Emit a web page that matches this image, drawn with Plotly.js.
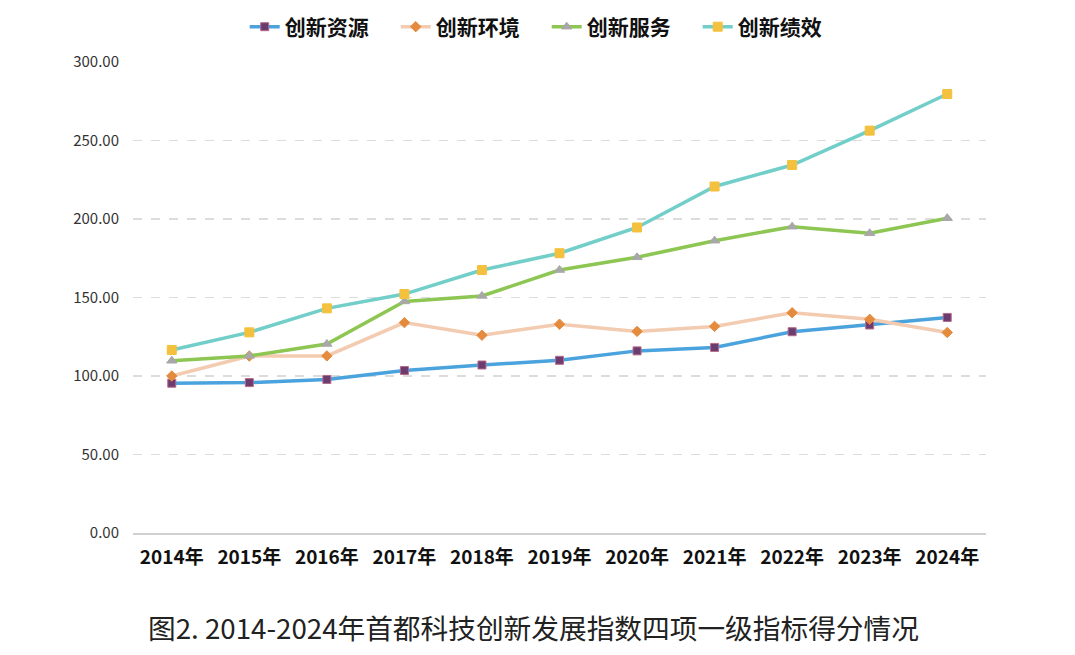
<!DOCTYPE html>
<html>
<head>
<meta charset="utf-8">
<script src="https://cdn.plot.ly/plotly-3.0.1.min.js"></script>
<style>
html,body{margin:0;padding:0;background:#fff;}
#chart{width:1075px;height:655px;}
</style>
</head>
<body>
<div id="chart"></div>
<script>
const years = ["2014年","2015年","2016年","2017年","2018年","2019年","2020年","2021年","2022年","2023年","2024年"];
const resources = [95.4, 95.8, 97.8, 103.5, 107.0, 110.0, 116.0, 118.2, 128.2, 132.5, 137.3];
const environment = [100.0, 112.7, 112.8, 134.0, 126.0, 133.0, 128.4, 131.6, 140.3, 136.1, 127.7];
const services = [109.7, 112.8, 120.4, 147.5, 151.0, 167.5, 175.6, 186.2, 195.1, 190.9, 200.5];
const performance = [116.6, 127.8, 143.1, 152.2, 167.5, 178.2, 194.6, 220.7, 234.4, 256.3, 279.6];
const yTicks = [0, 50, 100, 150, 200, 250, 300];
const caption = "图2. 2014-2024年首都科技创新发展指数四项一级指标得分情况";

const FONT = "'Noto Sans CJK SC', 'Noto Sans', sans-serif";

function series(name, y, lineColor, mColor, mLine, symbol, size) {
  return {
    type: "scatter", mode: "lines+markers", name: name, x: years, y: y,
    line: {color: lineColor, width: 3.5},
    marker: {symbol: symbol, size: size, color: mColor, line: {color: mLine, width: 1}}
  };
}

const data = [
  series("创新资源", resources, "#4BA3DE", "#6A3C70", "#B66A88", "square", 8),
  series("创新环境", environment, "#F3CBB0", "#E58B3E", "#E58B3E", "diamond", 8),
  series("创新服务", services, "#8DC652", "#A8A8A8", "#A8A8A8", "triangle-up", 9),
  series("创新绩效", performance, "#72CEC8", "#F4C13E", "#F4C13E", "square", 9)
];

const layout = {
  width: 1075, height: 655,
  paper_bgcolor: "#fff", plot_bgcolor: "#fff",
  margin: {l: 133, r: 89, t: 62, b: 122},
  font: {family: FONT, color: "#333"},
  showlegend: true,
  legend: {
    orientation: "h", x: 0.485, xref: "paper", xanchor: "center",
    y: 0.99, yref: "container", yanchor: "top",
    font: {family: FONT, size: 21, color: "#111", weight: "bold"},
    itemwidth: 30, entrywidth: 106, entrywidthmode: "pixels",
    tracegroupgap: 0, bgcolor: "rgba(0,0,0,0)"
  },
  xaxis: {
    type: "category", range: [-0.5, 10.5],
    showgrid: false, zeroline: false,
    showline: true, linecolor: "#d0d0d0", linewidth: 2,
    ticks: "", tickfont: {family: FONT, size: 19, color: "#111", weight: "bold"},
    ticklabelstandoff: 6
  },
  yaxis: {
    range: [0, 300], tickvals: yTicks, tickformat: ".2f",
    showgrid: true, gridcolor: "#dcdcdc", griddash: "dash", gridwidth: 1.2,
    zeroline: false, showline: false, ticks: "",
    tickfont: {family: FONT, size: 15, color: "#333"},
    ticklabelstandoff: 13
  },
  annotations: [{
    text: caption, xref: "paper", yref: "paper", x: 0.47, y: -0.2,
    xanchor: "center", yanchor: "middle", showarrow: false,
    font: {family: FONT, size: 27.7, color: "#222"}
  }]
};

Plotly.newPlot("chart", data, layout, {displayModeBar: false, staticPlot: true});
</script>
</body>
</html>
